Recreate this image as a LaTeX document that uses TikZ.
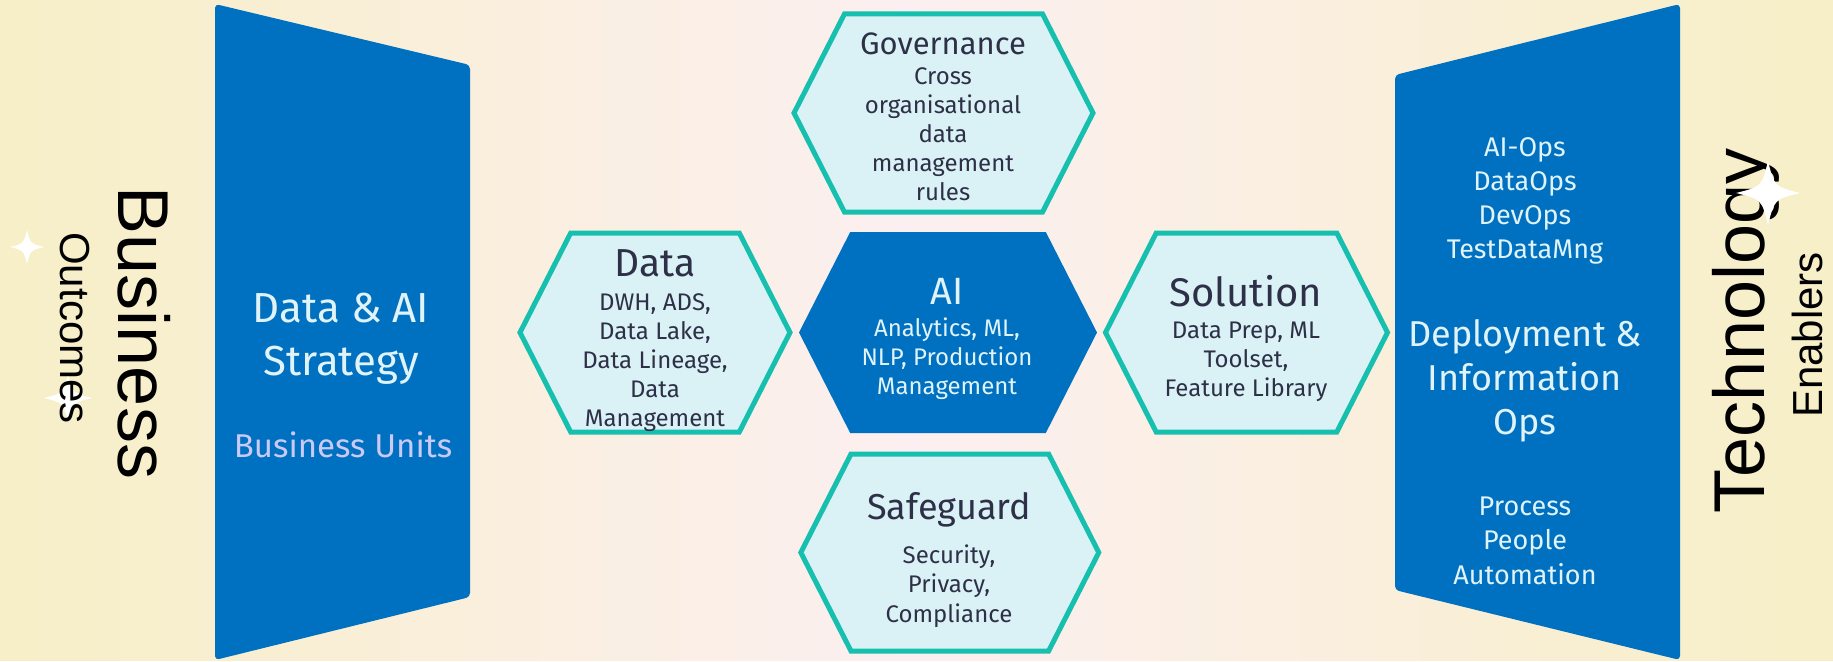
\documentclass[tikz,border=0pt]{standalone}
\usepackage{fontspec}
\setmainfont{Fira Sans}
\newfontfamily\sidefont{Liberation Sans}
\usepackage{tikz}
\usetikzlibrary{shapes, positioning}
\definecolor{bgYellow}{HTML}{F7EFC8}
\definecolor{bgPink}{HTML}{FCEFF1}
\definecolor{pillar}{HTML}{0070C0}
\definecolor{hexFill}{HTML}{DAF2F6}
\definecolor{hexLine}{HTML}{17BFAF}
\definecolor{ink}{HTML}{2E3047}
\definecolor{pale}{HTML}{DFF3F8}
\definecolor{lilac}{HTML}{CBC9F6}
\newcommand{\sparkle}[3]{%
	\begin{scope}[shift={(#1,#2)}]
		\fill[white] (0,-#3) .. controls (0.2*#3,-0.2*#3) .. (#3,0)
			.. controls (0.2*#3,0.2*#3) .. (0,#3)
			.. controls (-0.2*#3,0.2*#3) .. (-#3,0)
			.. controls (-0.2*#3,-0.2*#3) .. (0,-#3) -- cycle;
	\end{scope}}
\tikzstyle{hexa} = [signal, signal to=west and east, signal pointer angle=126, inner sep=0,
                    fill=hexFill, draw=hexLine, line width=5pt]
\tikzstyle{core} = [hexa, fill=pillar, draw=none]
\tikzstyle{title} = [anchor=base, align=center, text=ink]
\tikzstyle{lines} = [anchor=base, align=center, text=ink, font=\fontsize{24}{29}\selectfont]
\tikzstyle{side} = [anchor=base, text=black]

\begin{document}
\begin{tikzpicture}[x=1pt, y=-1pt]
				\useasboundingbox (0,0) rectangle (1833,661);
				% background, yellow at the sides and pink in the middle
				\foreach \i in {0,...,91} {
					\pgfmathsetmacro\mix{min(100, abs(\i*20+10-916)/880*100)}
					\fill [bgYellow!\mix!bgPink] (\i*20,0) rectangle (\i*20+20.5,661);
				}

				% sparkles behind the business label
				\sparkle{27}{247}{17}
				\sparkle{68}{398}{24}

				% business side
				\node (Business) [side, rotate=-90, font=\sidefont\fontsize{72}{72}\selectfont] at (118, 333) {Business};
				\node (Outcomes) [side, rotate=-90, font=\sidefont\fontsize{42}{42}\selectfont] at (60, 328) {Outcomes};

				\fill [pillar, rounded corners=4pt] (215,4) -- (470,65) -- (470,597) -- (215,660) -- cycle;
				\node (Strategy) [title, text=pale, font=\fontsize{42}{53}\selectfont] at (341, 375) {Data \& AI\\Strategy};
				\node (Units) [title, text=lilac, font=\fontsize{33}{33}\selectfont] at (343, 457) {Business Units};

				% governance
				\node (Gov) [hexa, minimum width=299, minimum height=198] at (943.5, 113) {};
				\node (GovTitle) [title, font=\fontsize{31}{31}\selectfont] at (943, 55) {Governance};
				\node (GovText) [lines] at (943, 200) {Cross\\organisational\\data\\management\\rules};

				% data
				\node (Data) [hexa, minimum width=270, minimum height=199] at (655, 332.5) {};
				\node (DataTitle) [title, font=\fontsize{39}{39}\selectfont] at (655, 276) {Data};
				\node (DataText) [lines] at (655, 426) {DWH, ADS,\\Data Lake,\\Data Lineage,\\Data\\Management};

				% ai in the middle
				\node (AI) [core, minimum width=298, minimum height=201] at (948, 332.5) {};
				\node (AITitle) [title, text=pale, font=\fontsize{38}{38}\selectfont] at (947, 304) {AI};
				\node (AIText) [lines, text=pale] at (947, 394) {Analytics, ML,\\NLP, Production\\Management};

				% solution
				\node (Sol) [hexa, minimum width=282, minimum height=199] at (1246.5, 332.5) {};
				\node (SolTitle) [title, font=\fontsize{40}{40}\selectfont] at (1246, 306) {Solution};
				\node (SolText) [lines] at (1246, 396) {Data Prep, ML\\Toolset,\\Feature Library};

				% safeguard
				\node (Safe) [hexa, minimum width=298, minimum height=197] at (949.8, 552.5) {};
				\node (SafeTitle) [title, font=\fontsize{36}{36}\selectfont] at (949, 519) {Safeguard};
				\node (SafeText) [lines, font=\fontsize{24}{29.5}\selectfont] at (949, 622) {Security,\\Privacy,\\Compliance};

				% technology side
				\fill [pillar, rounded corners=4pt] (1395,75) -- (1680,4) -- (1680,660) -- (1395,590) -- cycle;
				\node (Ops) [title, text=pale, font=\fontsize{27}{33.7}\selectfont] at (1525, 258) {AI-Ops\\DataOps\\DevOps\\TestDataMng};
				\node (Deploy) [title, text=pale, font=\fontsize{36}{44}\selectfont] at (1525, 434) {Deployment \&\\Information\\Ops};
				\node (People) [title, text=pale, font=\fontsize{27}{34.5}\selectfont] at (1525, 584) {Process\\People\\Automation};

				\node (Technology) [side, rotate=90, font=\sidefont\fontsize{72}{72}\selectfont] at (1764, 331) {Technology};
				\node (Enablers) [side, rotate=90, font=\sidefont\fontsize{42}{42}\selectfont] at (1822, 335) {Enablers};
				\sparkle{1768}{193}{32}
\end{tikzpicture}
\end{document}
